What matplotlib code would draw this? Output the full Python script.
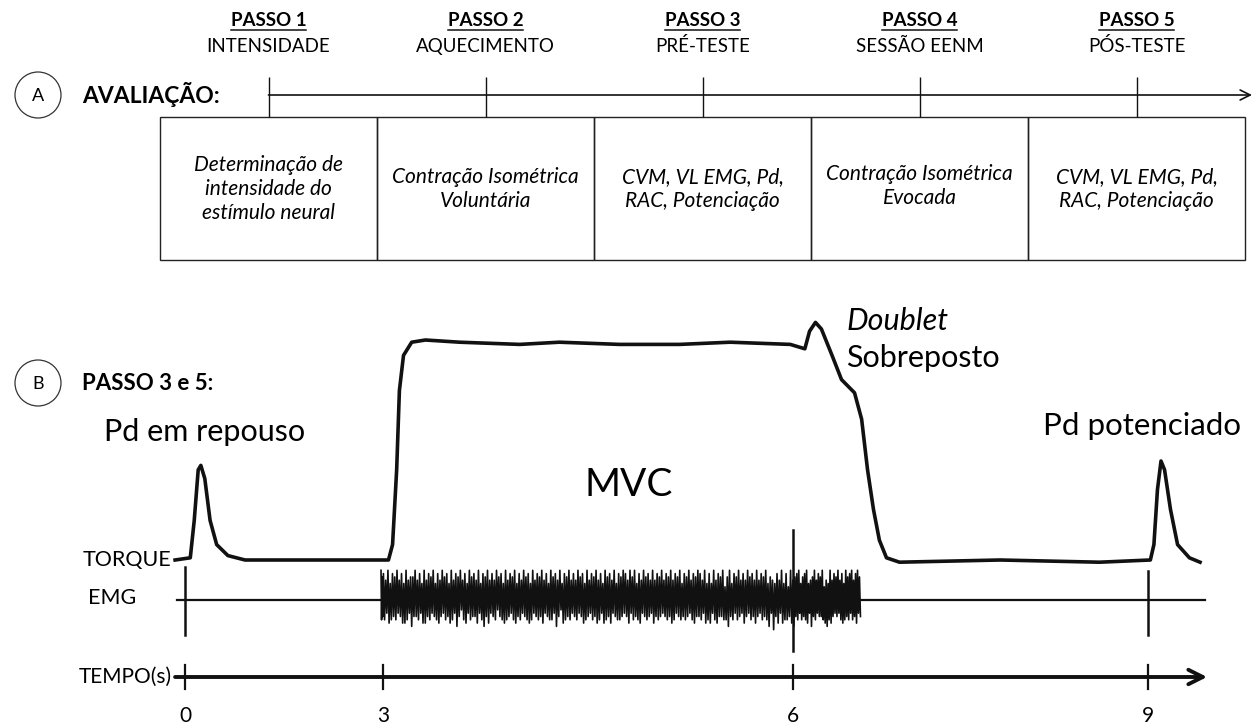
import matplotlib
matplotlib.use("Agg")
import matplotlib.pyplot as plt
import numpy as np
from matplotlib.patches import Circle, Rectangle

plt.rcParams["font.family"] = ["Lato", "DejaVu Sans"]

# ---- panel A: protocol steps ----
STEP_TITLES = ["PASSO 1", "PASSO 2", "PASSO 3", "PASSO 4", "PASSO 5"]
STEP_NAMES = ["INTENSIDADE", "AQUECIMENTO", "PRÉ-TESTE", "SESSÃO EENM", "PÓS-TESTE"]
STEP_TASKS = [
    "Determinação de\nintensidade do\nestímulo neural",
    "Contração Isométrica\nVoluntária",
    "CVM, VL EMG, Pd,\nRAC, Potenciação",
    "Contração Isométrica\nEvocada",
    "CVM, VL EMG, Pd,\nRAC, Potenciação",
]

# ---- panel B: schematic torque / EMG traces ----
TIME_TICKS = [0, 3, 6, 9]
# torque trace (time s, torque normalised to MVC plateau)
TORQUE_T = [-0.15, 0.08, 0.14, 0.20, 0.24, 0.30, 0.38, 0.48, 0.65, 0.91, 1.74,
            3.04, 3.07, 3.10, 3.12, 3.15, 3.21, 3.31, 3.56, 4.00, 4.29, 4.73,
            5.17, 5.54, 5.98, 6.10, 6.14, 6.19, 6.24, 6.33, 6.41, 6.52, 6.58,
            6.63, 6.68, 6.73, 6.79, 6.90, 7.75, 8.59, 9.02, 9.05, 9.08, 9.11,
            9.14, 9.19, 9.25, 9.35, 9.44]
TORQUE_V = [0.0, 0.01, 0.18, 0.41, 0.43, 0.37, 0.18, 0.07, 0.02, 0.0, 0.0,
            0.0, 0.07, 0.41, 0.77, 0.93, 0.99, 1.0, 0.99, 0.98, 0.99, 0.98,
            0.98, 0.99, 0.98, 0.96, 1.04, 1.08, 1.05, 0.93, 0.82, 0.76, 0.64,
            0.41, 0.23, 0.09, 0.01, -0.01, 0.0, -0.01, 0.0, 0.07, 0.32, 0.45,
            0.41, 0.23, 0.07, 0.01, -0.01]
# EMG burst during the MVC: alternating up/down excursions (x3 px units)
EMG_START, EMG_END = 2.97, 6.57
EMG_DIGITS = ("96758664975685769465875796647875956684579765867495568765947685"
              "57966488759366875496758567945688759764856693758657966584769755"
              "86649576875694658675976485569674886593578675966485669475875695"
              "64867597668457967587649556867594"
              "85679476955687649576856497658675946586759766847596558675946687"
              "75958664975687549667857596467895568476956487659476856795648675"
              "96587469558764975686459768758694567586975468759664857596476856"
              "97658475946687569576849665879475")
STIM_TIMES = [0, 6, 9]
STIM_UP = [0.15, 0.32, 0.13]
STIM_DOWN = [0.16, 0.23, 0.16]

# piecewise time axis of the drawing (time -> pixel column)
T_KNOTS = [-2.8, 0, 3, 6, 9, 9.93]
PX_KNOTS = [0, 185, 383, 793, 1148, 1258]

W, H = 1258, 725
fig = plt.figure(figsize=(W / 100, H / 100), dpi=100)

# overlay axes in pixel units for the flow chart part
ax = fig.add_axes([0, 0, 1, 1])
ax.set_xlim(0, W)
ax.set_ylim(H, 0)
ax.axis("off")

n = len(STEP_TITLES)
box_left, box_w = 160, 217
box_top, box_bot = 117, 260
centers = [box_left + box_w * (i + 0.5) for i in range(n)]

headers = []
for cx, title, name in zip(centers, STEP_TITLES, STEP_NAMES):
    headers.append(ax.text(cx, 20, title, ha="center", va="center",
                           fontsize=13.5, fontweight="bold"))
    ax.text(cx, 46, name, ha="center", va="center", fontsize=13.5)

for i, task in enumerate(STEP_TASKS):
    ax.add_patch(Rectangle((box_left + box_w * i, box_top), box_w,
                           box_bot - box_top, fill=False, lw=1.0,
                           edgecolor="#222"))
    ax.text(centers[i], 186 if i == 3 else 189, task, ha="center",
            va="center", fontsize=15, style="italic", linespacing=1.25)

# timeline with step ticks
ax.annotate("", xy=(1252, 95), xytext=(centers[0], 95),
            arrowprops=dict(arrowstyle="->", lw=1.2, color="#111",
                            mutation_scale=18, shrinkA=0, shrinkB=0))
ax.vlines(centers, 77, box_top, color="#111", lw=1.0)

for cy, letter in [(95, "A"), (383, "B")]:
    ax.add_patch(Circle((38, cy), 23, fill=False, lw=0.9, edgecolor="#333"))
    ax.text(38, cy + 1, letter, ha="center", va="center", fontsize=13)
ax.text(82, 94, "AVALIAÇÃO:", ha="left", va="center", fontsize=16.5,
        fontweight="bold")
ax.text(82, 383, "PASSO 3 e 5:", ha="left", va="center", fontsize=16,
        fontweight="bold")

# ---- panel B axes: time on x (piecewise scale), torque on y ----
bx = fig.add_axes([0, 0, 1, 1])
bx.patch.set_visible(False)
bx.set_xscale("function", functions=(
    lambda t: np.interp(t, T_KNOTS, PX_KNOTS),
    lambda p: np.interp(p, PX_KNOTS, T_KNOTS)))
bx.set_xlim(T_KNOTS[0], T_KNOTS[-1])
px_per_unit = 220
base_px = 560
bx.set_ylim(-(H - base_px) / px_per_unit, base_px / px_per_unit)
bx.axis("off")

emg_y = -40 / px_per_unit
time_y = -117 / px_per_unit

bx.plot(TORQUE_T, TORQUE_V, color="#111", lw=2.6, solid_joinstyle="round")

# EMG baseline and burst
bx.plot([-0.12, 9.48], [emg_y, emg_y], color="#111", lw=1.6)
amps = np.array([int(c) for c in EMG_DIGITS]) * 3.3 / px_per_unit
signs = np.where(np.arange(len(amps)) % 2 == 0, 1, -1)
emg_t = np.linspace(EMG_START, EMG_END, len(amps))
bx.plot(emg_t, emg_y + signs * amps, color="#111", lw=1.2)
for t, up, dn in zip(STIM_TIMES, STIM_UP, STIM_DOWN):
    bx.plot([t, t], [emg_y - dn, emg_y + up], color="#111", lw=1.8)

# time axis
bx.annotate("", xy=(9.5, time_y), xytext=(-0.15, time_y),
            arrowprops=dict(arrowstyle="->", lw=2.8, color="#111",
                            mutation_scale=26, shrinkA=0, shrinkB=0))
for t in TIME_TICKS:
    bx.plot([t, t], [time_y - 0.055, time_y + 0.055], color="#111", lw=1.6)
    bx.text(t, time_y - 0.175, str(t), ha="center", va="center", fontsize=15)

# trace labels
bx.text(-0.2, 0.0, "TORQUE", ha="right", va="center", fontsize=15.5)
bx.text(-1.1, emg_y + 0.01, "EMG", ha="center", va="center", fontsize=15.5)
bx.text(-0.2, time_y, "TEMPO(s)", ha="right", va="center", fontsize=15)
bx.text(0.3, 0.58, "Pd em repouso", ha="center", va="center", fontsize=22)
bx.text(4.8, 0.34, "MVC", ha="center", va="center", fontsize=28)
bx.text(6.45, 1.085, "Doublet", ha="left", va="center", fontsize=22,
        style="italic")
bx.text(6.45, 0.92, "Sobreposto", ha="left", va="center", fontsize=22)
bx.text(8.95, 0.61, "Pd potenciado", ha="center", va="center", fontsize=22.5)

# underline the step titles
fig.canvas.draw()
inv = ax.transData.inverted()
for h in headers:
    bb = h.get_window_extent()
    (x0, y0), (x1, _) = inv.transform([(bb.x0, bb.y0), (bb.x1, bb.y1)])
    ax.plot([x0, x1], [y0 + 1, y0 + 1], color="#111", lw=1.1)

fig.savefig("out.png", dpi=100, facecolor="white")
